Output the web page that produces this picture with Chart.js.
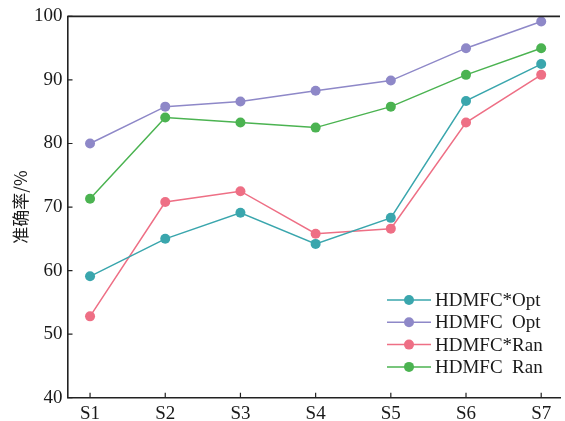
<!DOCTYPE html>
<html>
<head>
<meta charset="utf-8">
<script src="https://cdn.jsdelivr.net/npm/chart.js@4/dist/chart.umd.min.js"></script>
<style>
  html, body { margin: 0; padding: 0; background: #fff; }
  #wrap { width: 565px; height: 421px; }
</style>
</head>
<body>
<div id="wrap"><canvas id="myChart"></canvas></div>
<script>
// categories
const labels = ["S1", "S2", "S3", "S4", "S5", "S6", "S7"];
const yTicks = [40, 50, 60, 70, 80, 90, 100];

// series values (accuracy %)
const optStar = [59.1, 65.0, 69.1, 64.2, 68.3, 86.7, 92.5];
const opt     = [80.0, 85.8, 86.6, 88.3, 89.9, 95.0, 99.2];
const ranStar = [52.8, 70.8, 72.5, 65.8, 66.6, 83.3, 90.8];
const ran     = [71.3, 84.1, 83.3, 82.5, 85.8, 90.8, 95.0];

const seriesNames = ["HDMFC*Opt", "HDMFC  Opt", "HDMFC*Ran", "HDMFC  Ran"];
const colors = ["#3aa6ad", "#8e88c8", "#ee6f85", "#4bb351"];

const serif = "'Liberation Serif', 'DejaVu Serif', serif";
const axisColor = "#222";
const textColor = "#1a1a1a";

function toPoints(arr) {
  return arr.map((v, i) => ({ x: i + 1, y: v }));
}

const datasets = [optStar, opt, ranStar, ran].map((arr, i) => ({
  label: seriesNames[i],
  data: toPoints(arr),
  borderColor: colors[i],
  backgroundColor: colors[i],
  borderWidth: 1.5,
  pointRadius: 5,
  pointHoverRadius: 5,
  pointBorderWidth: 0,
  tension: 0
}));

// inward tick marks, top frame line and the legend inside the plot
const extras = {
  id: "extras",
  afterDraw(chart) {
    const ctx = chart.ctx;
    const area = chart.chartArea;
    const x = chart.scales.x, y = chart.scales.y;
    ctx.save();
    ctx.strokeStyle = axisColor;
    ctx.lineWidth = 1.2;
    ctx.beginPath();
    labels.forEach((l, i) => {
      const px = x.getPixelForValue(i + 1);
      ctx.moveTo(px, area.bottom);
      ctx.lineTo(px, area.bottom - 5);
    });
    yTicks.forEach(v => {
      const py = y.getPixelForValue(v);
      ctx.moveTo(area.left, py);
      ctx.lineTo(area.left + 5, py);
    });
    ctx.stroke();

    ctx.lineWidth = 1.6;
    ctx.beginPath();
    ctx.moveTo(area.left, area.top);
    ctx.lineTo(area.right, area.top);
    ctx.stroke();

    // legend
    ctx.font = "19px " + serif;
    ctx.textBaseline = "middle";
    seriesNames.forEach((name, i) => {
      const ly = 300 + i * 22.3;
      ctx.strokeStyle = colors[i];
      ctx.lineWidth = 1.5;
      ctx.beginPath();
      ctx.moveTo(387, ly);
      ctx.lineTo(431, ly);
      ctx.stroke();
      ctx.fillStyle = colors[i];
      ctx.beginPath();
      ctx.arc(409, ly, 5, 0, Math.PI * 2);
      ctx.fill();
      ctx.fillStyle = textColor;
      ctx.fillText(name, 435, ly + 1);
    });
    ctx.restore();
  }
};

const ctx = document.getElementById("myChart").getContext("2d");

let myChart = new Chart(ctx, {
  type: "line",
  data: { datasets: datasets },
  plugins: [extras],
  options: {
    responsive: true,
    maintainAspectRatio: false,
    animation: false,
    layout: { padding: { top: 14.5, right: 0, left: 0, bottom: 0 } },
    plugins: {
      legend: { display: false },
      tooltip: { enabled: false }
    },
    scales: {
      x: {
        type: "linear",
        min: 0.7,
        max: 7.25,
        afterFit(scale) { scale.height = 23.3; },
        afterBuildTicks(scale) {
          scale.ticks = labels.map((l, i) => ({ value: i + 1 }));
        },
        ticks: {
          callback: (v) => labels[v - 1],
          color: textColor,
          font: { family: serif, size: 19 },
          padding: 5,
          maxRotation: 0,
          autoSkip: false
        },
        grid: { display: false, drawTicks: false },
        border: { display: true, color: axisColor, width: 1.6 }
      },
      y: {
        min: 40,
        max: 100,
        afterFit(scale) { scale.width = 67.5; },
        afterBuildTicks(scale) {
          scale.ticks = yTicks.map(v => ({ value: v }));
        },
        ticks: {
          color: textColor,
          font: { family: serif, size: 19 },
          padding: 5
        },
        grid: { display: false, drawTicks: false },
        border: { display: true, color: axisColor, width: 1.6 },
        title: {
          display: true,
          text: "准确率/%",
          color: textColor,
          font: { family: "'Noto Sans CJK SC', sans-serif", size: 17 },
          padding: { top: 10, bottom: 2 }
        }
      }
    }
  }
});
</script>
</body>
</html>
